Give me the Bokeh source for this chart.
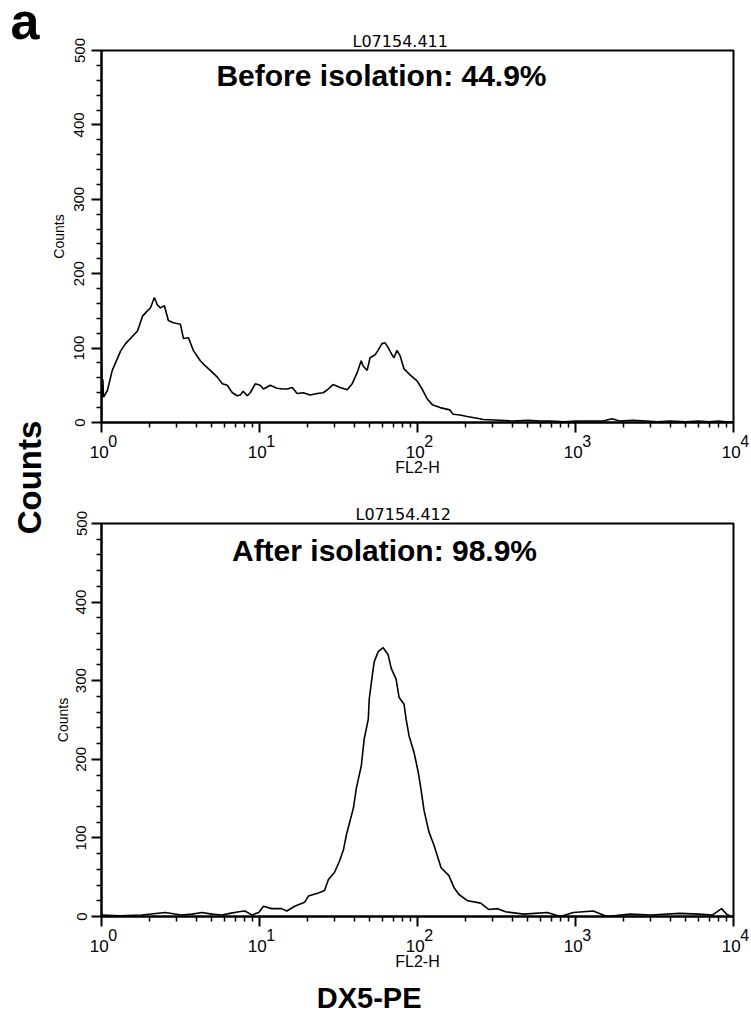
import math
from bokeh.plotting import figure
from bokeh.models import Range1d, FixedTicker, Label, LogAxis
from bokeh.layouts import row, column
from bokeh.embed import file_html
from bokeh.resources import INLINE

# ---------------- data ----------------
before_fl2 = [1.0, 1.0, 1.01, 1.02, 1.03, 1.09, 1.17, 1.32, 1.42, 1.69, 1.82, 1.95, 2.04, 2.16,
              2.26, 2.36, 2.50, 2.65, 2.85, 3.16, 3.30, 3.55, 3.81, 4.22, 4.54, 4.88, 5.41, 5.82,
              6.25, 6.73, 7.23, 7.55, 7.89, 8.37, 8.74, 9.40, 10.1, 10.6, 11.7, 12.9, 14.1, 15.0,
              16.1, 17.3, 18.9, 20.9, 23.2, 25.3, 27.2, 29.2, 32.4, 35.9, 38.6, 41.5, 44.0, 45.3,
              48.0, 50.1, 53.9, 56.3, 59.6, 62.3, 65.1, 69.0, 71.0, 74.2, 77.5, 82.2, 89.7, 99.3,
              107, 115, 124, 139, 160, 168, 186, 206, 248, 260, 332, 400, 500, 600, 700, 850,
              1000, 1200, 1500, 1700, 1900, 2300, 2800, 3300, 4000, 5000, 6000, 7000, 8000, 9000, 9900]
before_counts = [0, 86, 35, 58, 34, 43, 70, 96, 106, 123, 143, 150, 154, 168,
                 158, 154, 157, 137, 134, 132, 113, 114, 97, 83, 76, 70, 61, 52,
                 50, 40, 36, 37, 42, 36, 40, 52, 50, 45, 50, 46, 45, 45,
                 47, 39, 40, 37, 39, 40, 45, 51, 47, 44, 52, 67, 83, 76,
                 70, 87, 91, 97, 106, 107, 101, 91, 87, 97, 90, 72, 64, 56,
                 45, 32, 24, 20, 17, 11, 10, 8, 5, 4, 3, 2, 3, 2, 2, 1,
                 2, 2, 2, 5, 2, 3, 2, 1, 2, 1, 2, 1, 2, 1, 1]

after_fl2 = [1.0, 1.3, 1.8, 2.53, 3.2, 3.74, 4.33, 5.0, 5.78, 6.5, 7.4, 8.08, 8.93, 9.89,
             10.6, 11.9, 13.8, 14.9, 16.7, 19.3, 20.4, 23.6, 25.8, 27.3, 29.8, 32.0, 34.0,
             35.5, 37.0, 39.3, 41.0, 44.1, 46.0, 48.8, 49.5, 51.7, 53.2, 56.4, 60.6, 65.2,
             68.1, 73.2, 76.4, 82.2, 84.7, 88.4, 95.0, 101, 105, 110, 118, 127, 141, 158,
             170, 183, 208, 251, 282, 321, 361, 469, 664, 802, 968, 1294, 1585, 2213, 3000,
             4570, 6000, 7380, 8400, 9040, 9710]
after_counts = [2, 1, 2, 5, 2, 3, 5, 3, 2, 4, 6, 7, 2, 5,
                13, 10, 10, 7, 13, 18, 26, 30, 33, 47, 56, 70, 85,
                104, 118, 138, 163, 192, 226, 251, 277, 306, 324, 337, 342, 333,
                316, 302, 279, 270, 251, 230, 209, 184, 163, 135, 108, 91, 62, 52,
                37, 28, 20, 17, 9, 10, 6, 3, 5, 0, 5, 7, 0, 3, 2,
                4, 3, 2, 10, 3, 0]

x_ticks = [1, 10, 100, 1000, 10000]
x_base = "10"
x_exponents = ["0", "1", "2", "3", "4"]
x_minor = [m * 10 ** e for e in range(4) for m in range(2, 10)]
y_ticks = [0, 100, 200, 300, 400, 500]
y_minor = [v for v in range(20, 500, 20) if v % 100 != 0]

titles = ["L07154.411", "L07154.412"]
notes = ["Before isolation: 44.9%", "After isolation: 98.9%"]
x_title = "DX5-PE"
y_title = "Counts"
channel = "FL2-H"

SANS = "Liberation Sans"
STRIP = 46
TOTAL_W = 750
H_TOP = 490
H_BOT = 526
H_ALL = H_TOP + H_BOT
NBSP = "\u00a0"


def style_axis(ax):
    ax.axis_line_width = 2
    ax.axis_line_color = "black"
    ax.major_tick_line_width = 2
    ax.major_tick_line_color = "black"
    ax.minor_tick_line_width = 1.5
    ax.minor_tick_line_color = "black"
    ax.major_tick_in = 0
    ax.minor_tick_in = 0
    ax.major_tick_out = 10
    ax.minor_tick_out = 5
    ax.major_label_text_font = SANS
    ax.major_label_text_color = "black"
    ax.axis_label_text_font = SANS
    ax.axis_label_text_font_style = "normal"
    ax.axis_label_text_color = "black"


def bare_axis(ax):
    style_axis(ax)
    ax.axis_line_color = None
    ax.major_tick_line_color = None
    ax.minor_tick_line_color = None
    ax.major_tick_out = 0
    ax.minor_tick_out = 0


def hist(xs, ys, height, mb_left, mb_right, mb_top, mb_bottom, title_text, title_offset,
         ylab_standoff, ytitle_standoff):
    p = figure(width=TOTAL_W - STRIP, height=height, x_axis_type="log",
               x_range=Range1d(1, 10000), y_range=Range1d(0, 500),
               output_backend="svg", toolbar_location=None,
               min_border_left=mb_left, min_border_right=mb_right,
               min_border_top=mb_top, min_border_bottom=mb_bottom)
    p.line(xs, ys, line_color="black", line_width=1.6)
    p.grid.visible = False
    p.outline_line_color = "black"
    p.outline_line_width = 2
    p.outline_line_alpha = 1

    p.title.text = title_text
    p.title.align = "left"
    p.title.offset = title_offset
    p.title.standoff = 0
    p.title.text_font = "DejaVu Sans"
    p.title.text_font_size = "16px"
    p.title.text_font_style = "normal"
    p.title.text_color = "black"

    # axis 1: ticks + exponents of the decade labels
    xa = p.xaxis[0]
    style_axis(xa)
    xa.ticker = FixedTicker(ticks=x_ticks, minor_ticks=x_minor)
    xa.major_label_overrides = {t: "\u2007\u2007" + NBSP + e for t, e in zip(x_ticks, x_exponents)}
    xa.major_label_text_font_size = "16px"
    xa.major_label_standoff = 0

    # axis 2: the "10" bases plus the channel name
    xb = LogAxis(ticker=FixedTicker(ticks=x_ticks, minor_ticks=[]))
    bare_axis(xb)
    xb.major_label_overrides = {t: x_base + NBSP for t in x_ticks}
    xb.major_label_text_font_size = "17px"
    xb.major_label_standoff = -10
    xb.axis_label = channel
    xb.axis_label_text_font_size = "16px"
    xb.axis_label_standoff = -6
    p.add_layout(xb, "below")

    ya = p.yaxis[0]
    style_axis(ya)
    ya.ticker = FixedTicker(ticks=y_ticks, minor_ticks=y_minor)
    ya.major_label_orientation = "vertical"
    ya.axis_label = y_title
    ya.major_label_text_font_size = "15px"
    ya.major_label_standoff = ylab_standoff
    ya.axis_label_text_font_size = "14px"
    ya.axis_label_standoff = ytitle_standoff
    return p


top = hist(before_fl2, before_counts, H_TOP, 101 - STRIP, TOTAL_W - 733, 50, H_TOP - 422,
           titles[0], 251, 7, 5)
bot = hist(after_fl2, after_counts, H_BOT, 98 - STRIP, TOTAL_W - 734, 523 - H_TOP,
           H_ALL - 919, titles[1], 254, 5, 3)

top.add_layout(Label(x=1, y=500, x_offset=280, y_offset=-25, text=notes[0],
                     text_align="center", text_baseline="alphabetic",
                     text_font=SANS, text_font_style="bold", text_font_size="30px",
                     text_color="black"))
bot.add_layout(Label(x=1, y=500, x_offset=283, y_offset=-27, text=notes[1],
                     text_align="center", text_baseline="alphabetic",
                     text_font=SANS, text_font_style="bold", text_font_size="30px",
                     text_color="black"))

# axis 3 (bottom panel only): the shared x title
xc = LogAxis(ticker=FixedTicker(ticks=[], minor_ticks=[]))
bare_axis(xc)
xc.major_label_standoff = 0
xc.axis_label = x_title + NBSP * 12
xc.axis_label_text_font_style = "bold"
xc.axis_label_text_font_size = "29px"
xc.axis_label_standoff = 9
bot.add_layout(xc, "below")

# left strip with panel letter and shared y title
strip = figure(width=STRIP, height=H_ALL, x_range=Range1d(0, STRIP), y_range=Range1d(0, H_ALL),
               output_backend="svg", toolbar_location=None,
               x_axis_location=None, y_axis_location=None,
               min_border_left=0, min_border_right=0, min_border_top=0, min_border_bottom=0)
strip.grid.visible = False
strip.outline_line_color = None
strip.add_layout(Label(x=10, y=H_ALL - 20, text="a", text_align="left", text_baseline="alphabetic",
                       text_font=SANS, text_font_style="bold", text_font_size="52px",
                       text_color="black"))
strip.add_layout(Label(x=28.5, y=H_ALL - 477, text=y_title, angle=math.pi / 2,
                       text_align="center", text_baseline="alphabetic",
                       text_font=SANS, text_font_style="bold", text_font_size="33px",
                       text_color="black"))

layout = row(strip, column(top, bot, spacing=0), spacing=0)
open("out.html", "w").write(file_html(layout, INLINE))
